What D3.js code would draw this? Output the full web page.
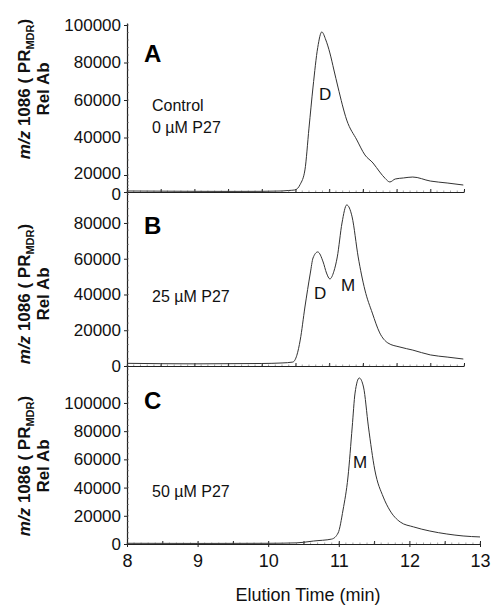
<!DOCTYPE html>
<html><head><meta charset="utf-8">
<script src="https://cdn.jsdelivr.net/npm/d3@7"></script>
<style>
body{margin:0;background:#fff;}
svg{display:block;font-family:Arial,"Liberation Sans",sans-serif;}
</style></head>
<body>
<svg id="c" width="502" height="613"></svg>
<script>
// ---- data ----
const timesA = [8.0,8.5,9.0,9.5,10.0,10.3,10.4,10.49,10.57,10.64,10.70,10.76,10.83,10.89,10.95,11.01,11.07,11.13,11.26,11.41,11.53,11.65,11.75,11.83,11.90,11.98,12.10,12.24,12.50,12.75,12.99];
const valuesA = [1200,1000,800,700,800,1200,1800,2400,9000,22700,45000,66900,88000,96300,92000,85100,76000,66900,49300,38700,30700,26400,21600,16000,11800,15300,16500,17600,12900,10600,8200];

const timesB = [8.0,9.0,10.0,10.3,10.46,10.52,10.57,10.64,10.72,10.76,10.83,10.91,10.96,11.01,11.07,11.12,11.19,11.26,11.34,11.43,11.53,11.64,11.75,11.87,12.05,12.24,12.50,12.75,12.99];
const valuesB = [1500,1200,1400,1700,2200,6000,14500,33000,52000,60400,63800,58200,52000,48700,53000,61000,80000,90100,83400,61000,42500,29600,18500,12900,10600,8900,6200,5000,3900];

const timesC = [8.0,9.0,10.0,10.4,10.5,10.64,10.90,10.99,11.06,11.13,11.19,11.23,11.29,11.35,11.42,11.51,11.63,11.72,11.87,12.06,12.29,12.53,12.76,13.0];
const valuesC = [500,400,500,800,1200,2100,3500,7800,24100,47500,83000,107000,117700,111300,83000,52500,33300,24100,15600,12100,9200,7100,5700,5000];

const yTicksA = [0,20000,40000,60000,80000,100000];
const yTicksB = [0,20000,40000,60000,80000];
const yTicksC = [0,20000,40000,60000,80000,100000];
const xTicks = [8,9,10,11,12,13];

const panelLetters = ["A","B","C"];
const panelNotes = [["Control","0 µM P27"],["25 µM P27"],["50 µM P27"]];
const xTitle = "Elution Time (min)";

// ---- layout ----
const svg = d3.select("#c");
const left = 127;
const ink = "#222";

const panels = [
  {t:timesA, v:valuesA, ticks:yTicksA,
   y: d3.scaleLinear().domain([0,20000,100000,101070]).range([192,175,25,23]),
   x: d3.scaleLinear().domain([8,13]).range([left,464]), bottom:192, xlabels:false,
   letter:{x:144,y:62}, notes:[{x:152,y:111},{x:152,y:133}], titleY:89,
   peaks:[{t:"D",x:319,y:100}]},
  {t:timesB, v:valuesB, ticks:yTicksB,
   y: d3.scaleLinear().domain([0,97330]).range([366,192]),
   x: d3.scaleLinear().domain([8,13]).range([left,464]), bottom:366, xlabels:false,
   letter:{x:144,y:234}, notes:[{x:152,y:302}], titleY:294,
   peaks:[{t:"D",x:314,y:299},{t:"M",x:341,y:291}]},
  {t:timesC, v:valuesC, ticks:yTicksC,
   y: d3.scaleLinear().domain([0,126200]).range([544,366]),
   x: d3.scaleLinear().domain([8,13]).range([left,480]), bottom:544, xlabels:true,
   letter:{x:144,y:409}, notes:[{x:152,y:497}], titleY:466,
   peaks:[{t:"M",x:353,y:468}]}
];

panels.forEach((p,i)=>{
  const g = svg.append("g");
  // y axis
  const ya = d3.axisLeft(p.y).tickValues(p.ticks).tickFormat(d3.format("d")).tickSize(3).tickSizeOuter(0).tickPadding(3);
  const yg = g.append("g").attr("transform",`translate(${left},0)`).call(ya);
  yg.select(".domain").attr("stroke",ink).attr("stroke-width",1.2);
  yg.selectAll(".tick line").attr("stroke",ink);
  yg.selectAll("text").attr("font-size",17).attr("fill","#111");
  if(i===0){
    // compressed bottom of the reference's first axis: spread the two lowest labels slightly
    yg.selectAll(".tick text").filter(d=>d===0).attr("dy","0.45em");
    yg.selectAll(".tick text").filter(d=>d===20000).attr("dy","0.2em");
  }
  // minor y ticks (inward)
  const top = d3.max(p.y.domain());
  const minor = d3.range(0, top, 4000);
  g.append("g").selectAll("line").data(minor).join("line")
    .attr("x1",left).attr("x2",left+2)
    .attr("y1",d=>p.y(d)).attr("y2",d=>p.y(d))
    .attr("stroke","#666").attr("stroke-width",0.6);
  // x axis
  const xa = d3.axisBottom(p.x).tickValues(d3.range(8,13.01,0.5)).tickSize(-3).tickSizeOuter(0).tickFormat("");
  const xg = g.append("g").attr("transform",`translate(0,${p.bottom})`).call(xa);
  xg.select(".domain").attr("stroke",ink).attr("stroke-width",1.2);
  xg.selectAll(".tick line").attr("stroke",ink);
  g.append("g").selectAll("line").data(d3.range(8,13.01,0.1)).join("line")
    .attr("x1",d=>p.x(d)).attr("x2",d=>p.x(d))
    .attr("y1",p.bottom).attr("y2",p.bottom-1.5)
    .attr("stroke","#666").attr("stroke-width",0.6);
  if(p.xlabels){
    const xl = d3.axisBottom(p.x).tickValues(xTicks).tickSize(3).tickSizeOuter(0).tickPadding(7).tickFormat(d3.format("d"));
    const xlg = g.append("g").attr("transform",`translate(0,${p.bottom})`).call(xl);
    xlg.select(".domain").remove();
    xlg.selectAll(".tick line").attr("stroke",ink);
    xlg.selectAll("text").attr("font-size",18).attr("fill","#111");
  }
  // trace
  const line = d3.line().x((d,j)=>p.x(p.t[j])).y(d=>p.y(d)).curve(d3.curveMonotoneX);
  g.append("path").datum(p.v).attr("d",line).attr("fill","none")
    .attr("stroke","#333").attr("stroke-width",1);
  // letter
  g.append("text").attr("x",p.letter.x).attr("y",p.letter.y).text(panelLetters[i])
    .attr("font-size",24).attr("font-weight","bold").attr("fill","#000");
  // notes
  panelNotes[i].forEach((n,k)=>{
    g.append("text").attr("x",p.notes[k].x).attr("y",p.notes[k].y).text(n)
      .attr("font-size",16).attr("fill","#111");
  });
  p.peaks.forEach(pk=>{
    g.append("text").attr("x",pk.x).attr("y",pk.y).text(pk.t)
      .attr("font-size",17).attr("fill","#111");
  });
  // y title
  const tt = g.append("text").attr("transform",`translate(30,${p.titleY}) rotate(-90)`)
    .attr("text-anchor","middle").attr("font-size",17).attr("font-weight","bold").attr("fill","#111");
  tt.append("tspan").attr("font-style","italic").text("m/z");
  tt.append("tspan").text(" 1086 ( PR");
  tt.append("tspan").attr("font-size",11).attr("dy",4).text("MDR");
  tt.append("tspan").attr("dy",-4).text(")");
  g.append("text").attr("transform",`translate(49,${p.titleY}) rotate(-90)`)
    .attr("text-anchor","middle").attr("font-size",17).attr("font-weight","bold").attr("fill","#111")
    .text("Rel Ab");
});

svg.append("text").attr("x",308).attr("y",601).attr("text-anchor","middle")
  .attr("font-size",18).attr("fill","#111").text(xTitle);
</script>
</body></html>
